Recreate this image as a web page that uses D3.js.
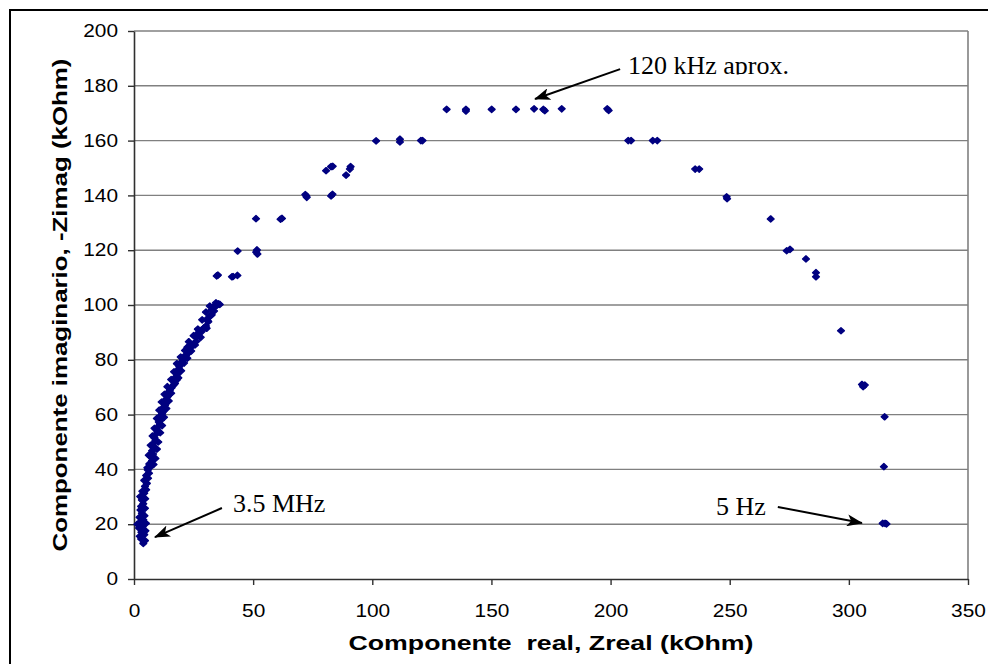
<!DOCTYPE html>
<html>
<head>
<meta charset="utf-8">
<script src="https://cdn.jsdelivr.net/npm/d3@7"></script>
<style>
  body { margin: 0; background: #fff; }
  svg { display: block; }
</style>
</head>
<body>
<svg></svg>
<script>
// Nyquist plot: real vs -imaginary impedance (kOhm)
var lowBand = [
  [3.9, 13.0], [4.6, 14.0], [3.0, 14.6], [2.4, 15.6], [4.3, 16.2], [3.1, 17.1],
  [4.8, 17.6], [2.1, 18.6], [3.6, 19.1], [1.4, 20.0], [5.0, 20.3], [2.8, 20.9],
  [3.9, 21.6], [2.3, 22.5], [4.4, 23.1], [3.3, 24.0], [2.7, 25.2], [4.6, 25.8],
  [3.0, 26.5], [3.9, 27.5], [3.3, 28.8], [4.7, 29.3], [2.6, 30.1], [4.3, 31.3],
  [3.5, 32.0], [5.1, 32.6], [4.6, 33.8], [5.4, 34.9], [4.3, 36.0], [5.9, 36.8],
  [5.1, 37.8], [6.3, 38.6], [5.8, 39.8]
];

var risingBranch = [
  [7.0, 41.0], [6.4, 42.0], [7.6, 43.2], [7.0, 44.6], [8.0, 45.6], [7.6, 46.8],
  [8.4, 48.3], [8.0, 49.4], [9.0, 50.5], [8.6, 51.5], [9.2, 52.8], [9.8, 54.0],
  [10.2, 55.6], [10.8, 56.5], [10.4, 57.3], [11.3, 58.0], [11.0, 59.5], [11.8, 60.3],
  [12.3, 61.1], [12.0, 62.4], [13.0, 63.3], [13.4, 64.1], [13.2, 65.4], [14.1, 66.5],
  [14.6, 67.2], [14.4, 68.2], [15.1, 69.0], [15.8, 69.8], [16.4, 70.6], [17.2, 71.4],
  [17.9, 72.6], [17.6, 73.8], [18.2, 74.6], [18.2, 75.7], [18.8, 76.6], [19.0, 77.5],
  [19.6, 78.4], [20.0, 79.3], [21.0, 80.4], [21.8, 81.8], [22.8, 82.4], [22.4, 84.6],
  [23.5, 85.0], [24.2, 84.8], [25.2, 86.0], [25.6, 85.4], [26.0, 88.4], [27.0, 89.1],
  [27.0, 89.9], [28.4, 90.3], [28.4, 90.9], [30.2, 92.3], [30.5, 91.5], [30.9, 94.3],
  [31.2, 93.9], [31.9, 96.0], [32.6, 96.4], [32.6, 98.2], [33.0, 99.2], [34.0, 99.4],
  [35.0, 100.0], [35.4, 100.4]
];

// second run of readings that thickens the rising band
var risingBranchB = [
  [8.2, 41.8], [5.6, 40.6], [9.0, 44.0], [6.2, 45.2], [9.6, 47.4], [7.0, 48.8],
  [10.2, 50.0], [7.8, 52.2], [11.0, 53.4], [8.6, 55.0], [11.8, 56.0], [9.6, 58.6],
  [12.6, 59.0], [10.6, 61.6], [13.6, 62.2], [11.6, 64.6], [14.6, 65.0], [12.8, 67.4],
  [15.6, 67.8], [14.0, 70.2], [16.8, 71.0], [15.6, 72.8], [18.6, 73.4], [16.8, 75.6],
  [19.8, 76.0], [18.0, 78.6], [21.0, 78.8], [19.6, 81.0], [22.4, 80.6], [21.4, 83.4],
  [24.0, 83.2], [23.0, 86.6], [26.2, 86.8], [25.0, 88.8], [28.0, 88.2], [26.8, 91.2],
  [29.6, 91.8], [28.6, 94.6], [31.0, 95.2], [30.2, 97.4], [33.6, 97.8], [31.8, 99.6],
  [34.4, 100.8], [36.0, 100.2]
];

var upperBranch = [
  [34.7, 110.6], [35.2, 110.9], [41.1, 110.3], [41.6, 110.4], [43.4, 110.8],
  [43.5, 119.7], [51.6, 120.1], [51.3, 119.3], [51.8, 118.6], [51.2, 131.5],
  [61.5, 131.3], [62.1, 131.6], [72.5, 139.3], [71.9, 140.3], [72.3, 139.8],
  [82.7, 139.8], [83.3, 140.4], [80.6, 149.0], [82.7, 150.5], [83.4, 150.6],
  [89.0, 147.4], [90.6, 149.6], [90.9, 150.5], [101.6, 159.9], [111.6, 159.5],
  [111.6, 160.5], [121.1, 160.0], [120.4, 160.0]
];

var peak = [
  [131.2, 171.4], [139.3, 171.4], [139.3, 170.8], [150.1, 171.4], [160.3, 171.4],
  [167.9, 171.6], [171.8, 171.4], [172.4, 170.9], [179.5, 171.6], [198.6, 171.6],
  [199.2, 171.0]
];

var fallingBranch = [
  [207.4, 160.0], [208.6, 160.0], [217.7, 160.0], [219.6, 160.0], [235.5, 149.6],
  [237.2, 149.6], [248.7, 139.5], [248.9, 138.8], [267.2, 131.4], [273.9, 119.8],
  [275.3, 120.3], [282.0, 116.8], [286.2, 111.8], [286.2, 110.3], [296.7, 90.6],
  [305.5, 71.0], [306.7, 70.8], [306.0, 70.2], [315.0, 59.2], [314.7, 41.0],
  [314.2, 20.3], [315.2, 20.3], [315.8, 20.1]
];

var xTicks = [0, 50, 100, 150, 200, 250, 300, 350];
var yTicks = [0, 20, 40, 60, 80, 100, 120, 140, 160, 180, 200];

var xTitle = "Componente\u00a0\u00a0real, Zreal (kOhm)";
var yTitle = "Componente imaginario, -Zimag (kOhm)";

// annotation text + arrow, in data units
var notes = [
  { text: "120 kHz aprox.", tx: 207.3, ty: 184.3, from: [204.0, 186.1], to: [168.3, 175.2], clip: true },
  { text: "3.5 MHz", tx: 41.5, ty: 24.5, from: [36.9, 25.9], to: [8.8, 15.3] },
  { text: "5 Hz", tx: 244.2, ty: 23.4, from: [270.2, 26.3], to: [305.5, 20.4] }
];

var points = lowBand.concat(risingBranch, risingBranchB, upperBranch, peak, fallingBranch);

var width = 988;
var height = 664;
var svg = d3.select("svg").attr("width", width).attr("height", height);

var plot = { left: 134, right: 968, top: 31, bottom: 579 };

var xScale = d3.scaleLinear().domain([0, 350]).range([plot.left, plot.right]);
var yScale = d3.scaleLinear().domain([0, 200]).range([plot.bottom, plot.top]);

// outer frame (runs off the right / bottom edges)
svg.append("rect")
  .attr("x", 10).attr("y", 10)
  .attr("width", 1000).attr("height", 700)
  .attr("fill", "#fff")
  .attr("stroke", "#000")
  .attr("stroke-width", 2);

// gridlines
svg.append("g")
  .selectAll("line")
  .data(yTicks.slice(1))
  .enter()
  .append("line")
  .attr("x1", plot.left).attr("x2", plot.right)
  .attr("y1", d => yScale(d)).attr("y2", d => yScale(d))
  .attr("stroke", "#808080")
  .attr("stroke-width", 1.4);

// right border of plot area
svg.append("line")
  .attr("x1", plot.right).attr("x2", plot.right)
  .attr("y1", plot.top).attr("y2", plot.bottom)
  .attr("stroke", "#808080")
  .attr("stroke-width", 1.6);

// axes
var yAxis = svg.append("g")
  .attr("transform", "translate(" + plot.left + ",0)")
  .call(d3.axisLeft(yScale).tickValues(yTicks).tickSize(6).tickPadding(10).tickSizeOuter(0));

var xAxis = svg.append("g")
  .attr("transform", "translate(0," + plot.bottom + ")")
  .call(d3.axisBottom(xScale).tickValues(xTicks).tickSize(6).tickPadding(19).tickSizeOuter(0));

[xAxis, yAxis].forEach(function(ax) {
  ax.select(".domain").attr("stroke", "#303030").attr("stroke-width", 1.6);
  ax.selectAll(".tick line").attr("stroke", "#303030").attr("stroke-width", 1.4);
  ax.selectAll(".tick text")
    .attr("fill", "#000")
    .style("font-family", "'Liberation Sans', Arial, sans-serif")
    .style("font-size", "18px")
    .attr("textLength", d => String(d).length * 11.6)
    .attr("lengthAdjust", "spacingAndGlyphs");
});

// axis titles
svg.append("text")
  .attr("x", (plot.left + plot.right) / 2)
  .attr("y", 650)
  .attr("text-anchor", "middle")
  .attr("textLength", 405)
  .attr("lengthAdjust", "spacingAndGlyphs")
  .style("font-family", "'Liberation Sans', Arial, sans-serif")
  .style("font-weight", "bold")
  .style("font-size", "21px")
  .text(xTitle);

svg.append("text")
  .attr("transform", "translate(67," + (plot.top + plot.bottom) / 2 + ") rotate(-90)")
  .attr("text-anchor", "middle")
  .attr("textLength", 493)
  .attr("lengthAdjust", "spacingAndGlyphs")
  .style("font-family", "'Liberation Sans', Arial, sans-serif")
  .style("font-weight", "bold")
  .style("font-size", "21px")
  .text(yTitle);

// data points (small navy diamonds)
svg.append("g")
  .selectAll("path")
  .data(points)
  .enter()
  .append("path")
  .attr("transform", d => "translate(" + xScale(d[0]) + "," + yScale(d[1]) + ")")
  .attr("d", "M0,-3.1L3.4,0L0,3.1L-3.4,0Z")
  .attr("fill", "#000080")
  .attr("stroke", "#000080")
  .attr("stroke-width", 1.4)
  .attr("stroke-linejoin", "round");

// annotations
var defs = svg.append("defs");
defs.append("marker")
  .attr("id", "arrow")
  .attr("viewBox", "0 0 16 12")
  .attr("refX", 15)
  .attr("refY", 6)
  .attr("markerWidth", 16)
  .attr("markerHeight", 12)
  .attr("markerUnits", "userSpaceOnUse")
  .attr("orient", "auto")
  .append("path")
  .attr("d", "M0,0L16,6L0,12L4,6Z")
  .attr("fill", "#000");

defs.append("clipPath")
  .attr("id", "noteClip")
  .append("rect")
  .attr("x", 0).attr("y", 0)
  .attr("width", width).attr("height", 74.5);

var noteG = svg.append("g");
notes.forEach(function(n) {
  noteG.append("line")
    .attr("x1", xScale(n.from[0])).attr("y1", yScale(n.from[1]))
    .attr("x2", xScale(n.to[0])).attr("y2", yScale(n.to[1]))
    .attr("stroke", "#000")
    .attr("stroke-width", 2)
    .attr("marker-end", "url(#arrow)");
  var t = noteG.append("text")
    .attr("x", xScale(n.tx))
    .attr("y", yScale(n.ty))
    .style("font-family", "'Liberation Serif', 'Times New Roman', serif")
    .style("font-size", "26px")
    .attr("fill", "#000")
    .text(n.text);
  if (n.clip) t.attr("clip-path", "url(#noteClip)");
});
</script>
</body>
</html>
